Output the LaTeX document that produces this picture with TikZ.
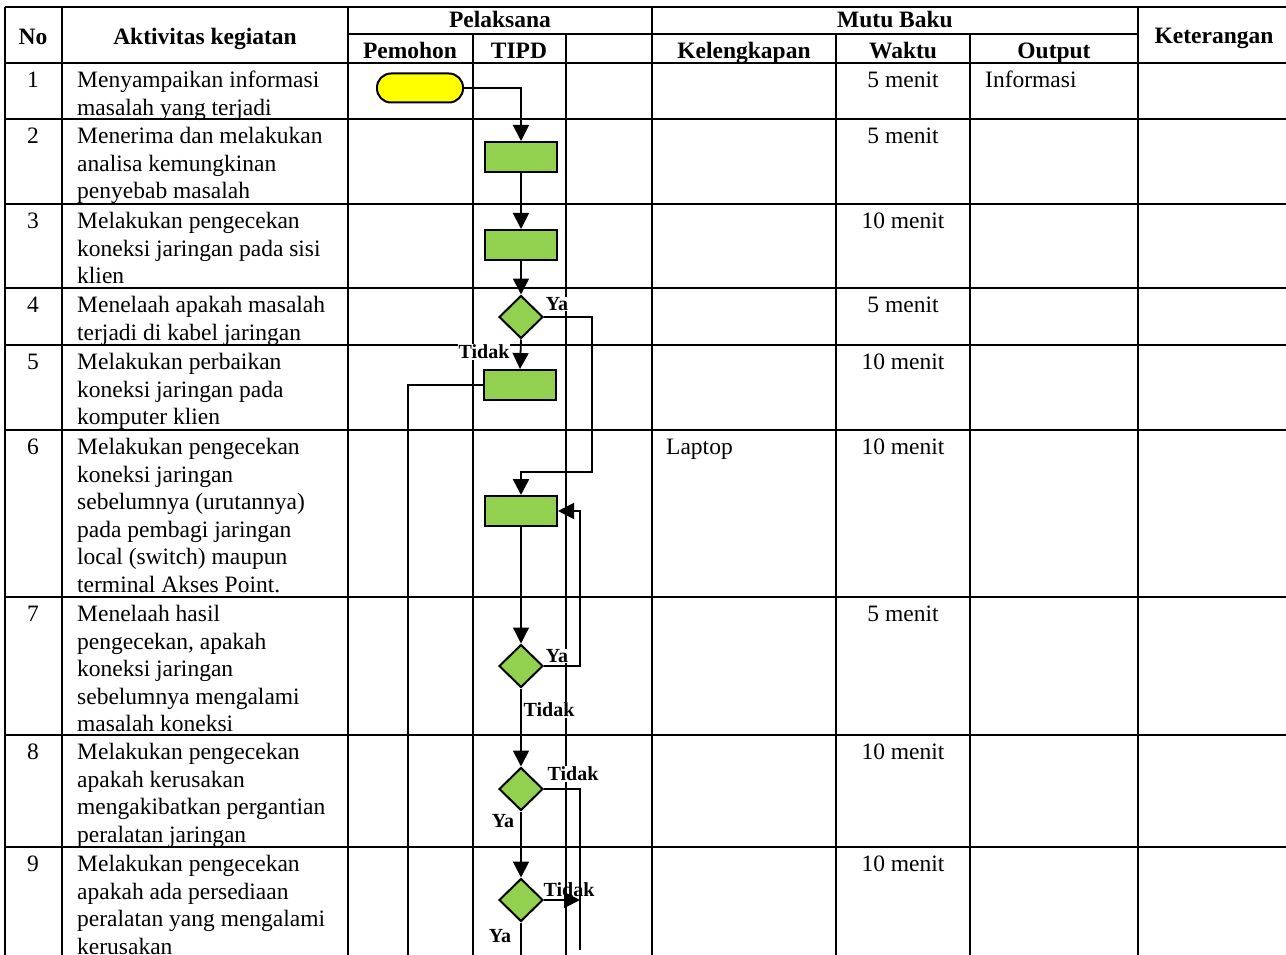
\documentclass[tikz,border=0pt]{standalone}
\usepackage{fontspec}
\setmainfont{Liberation Serif}
\usetikzlibrary{shapes.geometric,arrows.meta}
\definecolor{boxgreen}{RGB}{146,208,80}
\definecolor{termyellow}{RGB}{255,255,0}
\begin{document}
\begin{tikzpicture}[x=1pt,y=-1pt,
  grid/.style={line width=1.5pt},
  txt/.style={font=\fontsize{23.5}{27.6}\selectfont, inner sep=0pt, align=left, anchor=north west},
  ctr/.style={font=\fontsize{23.5}{27.6}\selectfont, inner sep=0pt, anchor=north},
  hdr/.style={font=\fontsize{23.5}{27.6}\selectfont\bfseries, inner sep=0pt, anchor=base},
  lbl/.style={font=\fontsize{20}{24}\selectfont\bfseries, inner sep=0.5pt, fill=white},
  lblnf/.style={font=\fontsize{20}{24}\selectfont\bfseries, inner sep=0.5pt},
  proc/.style={draw, line width=2pt, fill=boxgreen, minimum width=72pt, minimum height=30pt, inner sep=0pt},
  dec/.style={draw, diamond, line width=2pt, fill=boxgreen, minimum width=44pt, minimum height=43pt, inner sep=0pt, aspect=1},
  term/.style={draw, line width=2pt, fill=termyellow, minimum width=86pt, minimum height=29pt, rounded corners=14pt, inner sep=0pt},
  conn/.style={line width=1.8pt},
  thin/.style={line width=1.2pt},
  thick/.style={line width=2.6pt},
  arr/.style={-{Triangle[length=16pt,width=16pt]}}
]
\useasboundingbox (0,0) rectangle (1286,955);
\clip (0,0) rectangle (1286,955);
% table grid
\draw[grid] (5,7) -- (1300,7);
\draw[grid] (348,34) -- (1138,34);
\foreach \y in {63,119,204,288,345,430,597,735,847}{\draw[grid] (5,\y) -- (1300,\y);}
\foreach \x in {5,62,348,652,1138}{\draw[grid] (\x,7) -- (\x,960);}
\foreach \x in {473,566,836,970}{\draw[grid] (\x,34) -- (\x,960);}
% header
\node[hdr] (hNo) at (33,45) {No};
\node[hdr] (hAkt) at (205,45) {Aktivitas kegiatan};
\node[hdr] (hPel) at (500,28) {Pelaksana};
\node[hdr] (hPem) at (410,58.5) {Pemohon};
\node[hdr] (hTipd) at (519,58.5) {TIPD};
\node[hdr] (hMutu) at (895,28) {Mutu Baku};
\node[hdr] (hKel) at (744,59) {Kelengkapan};
\node[hdr] (hWak) at (903,58.5) {Waktu};
\node[hdr] (hOut) at (1054,59) {Output};
\node[hdr] (hKet) at (1214,44) {Keterangan};
% rows
\node[ctr] (n1) at (33,68) {\strut 1};
\node[txt] (a1) at (77,68) {\strut Menyampaikan informasi\\masalah yang terjadi};
\node[ctr] (w1) at (903,68) {\strut 5 menit};
\node[txt] (o1) at (985,68) {\strut Informasi};
\node[ctr] (n2) at (33,124) {\strut 2};
\node[txt] (a2) at (77,124) {\strut Menerima dan melakukan\\analisa kemungkinan\\penyebab masalah};
\node[ctr] (w2) at (903,124) {\strut 5 menit};
\node[ctr] (n3) at (33,209) {\strut 3};
\node[txt] (a3) at (77,209) {\strut Melakukan pengecekan\\koneksi jaringan pada sisi\\klien};
\node[ctr] (w3) at (903,209) {\strut 10 menit};
\node[ctr] (n4) at (33,293) {\strut 4};
\node[txt] (a4) at (77,293) {\strut Menelaah apakah masalah\\terjadi di kabel jaringan};
\node[ctr] (w4) at (903,293) {\strut 5 menit};
\node[ctr] (n5) at (33,350) {\strut 5};
\node[txt] (a5) at (77,350) {\strut Melakukan perbaikan\\koneksi jaringan pada\\komputer klien};
\node[ctr] (w5) at (903,350) {\strut 10 menit};
\node[ctr] (n6) at (33,435) {\strut 6};
\node[txt] (a6) at (77,435) {\strut Melakukan pengecekan\\koneksi jaringan\\sebelumnya (urutannya)\\pada pembagi jaringan\\local (switch) maupun\\terminal Akses Point.};
\node[txt] (k6) at (666,435) {\strut Laptop};
\node[ctr] (w6) at (903,435) {\strut 10 menit};
\node[ctr] (n7) at (33,602) {\strut 7};
\node[txt] (a7) at (77,602) {\strut Menelaah hasil\\pengecekan, apakah\\koneksi jaringan\\sebelumnya mengalami\\masalah koneksi};
\node[ctr] (w7) at (903,602) {\strut 5 menit};
\node[ctr] (n8) at (33,740) {\strut 8};
\node[txt] (a8) at (77,740) {\strut Melakukan pengecekan\\apakah kerusakan\\mengakibatkan pergantian\\peralatan jaringan};
\node[ctr] (w8) at (903,740) {\strut 10 menit};
\node[ctr] (n9) at (33,852) {\strut 9};
\node[txt] (a9) at (77,852) {\strut Melakukan pengecekan\\apakah ada persediaan\\peralatan yang mengalami\\kerusakan};
\node[ctr] (w9) at (903,852) {\strut 10 menit};
% flowchart shapes
\node[term] (t1) at (420,88) {};
\node[proc] (b2) at (521,157) {};
\node[proc] (b3) at (521,245) {};
\node[dec] (d4) at (521,317) {};
\node[proc] (b5) at (520,385) {};
\node[proc] (b6) at (521,511) {};
\node[dec] (d7) at (521,666) {};
\node[dec] (d8) at (521,789) {};
\node[dec] (d9) at (521,900) {};
% free ends
\coordinate (ya4) at (592,472);
\coordinate (left5) at (408,965);
\coordinate (ya7) at (580,511);
\coordinate (end8) at (580,950);
\coordinate (end9) at (580,900);
\coordinate (down9) at (521,965);
% connectors
\draw[conn,arr] (t1.east) -| (b2.north);
\draw[conn,arr] (b2.south) -- (b3.north);
\draw[conn,arr] (b3.south) -- (d4.north);
\draw[conn,arr] (d4.south) -- (b5.north);
\draw[thick,arr] (d4.east) -| (ya4) -| (b6.north);
\draw[thick] (b5.west) -| (left5);
\draw[thin,arr] (b6.south) -- (d7.north);
\draw[conn,arr] (d7.east) -| (ya7) -- (b6.east);
\draw[conn,arr] (d7.south) -- (d8.north);
\draw[thick] (d8.east) -| (end8);
\draw[conn,arr] (d8.south) -- (d9.north);
\draw[conn,arr] (d9.east) -- (end9);
\draw[conn] (d9.south) -- (down9);
% labels
\node[lbl] (l4y) at (557,304) {Ya};
\node[lbl] (l4t) at (484,352) {Tidak};
\node[lbl] (l7y) at (557,656) {Ya};
\node[lbl] (l7t) at (549,710) {Tidak};
\node[lbl] (l8t) at (573,774) {Tidak};
\node[lbl] (l8y) at (503,821) {Ya};
\node[lblnf] (l9t) at (569,890) {Tidak};
\node[lbl] (l9y) at (500,936) {Ya};
\end{tikzpicture}
\end{document}
